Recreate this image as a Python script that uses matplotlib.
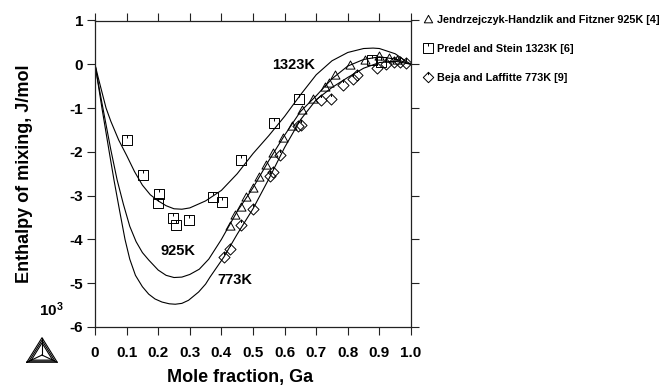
import numpy as np
import matplotlib
matplotlib.use('Agg')
import matplotlib.pyplot as plt
from matplotlib.path import Path
from matplotlib.lines import Line2D

plt.rcParams['font.family'] = ['Liberation Sans', 'DejaVu Sans']
plt.rcParams['font.weight'] = 'bold'
plt.rcParams['axes.unicode_minus'] = False
plt.rcParams['mathtext.fontset'] = 'custom'
plt.rcParams['mathtext.bf'] = 'Liberation Sans:bold'
plt.rcParams['mathtext.rm'] = 'Liberation Sans:bold'

# calculated curves, enthalpy in kJ/mol
c1323_x = [0, 0.01, 0.02, 0.035, 0.05, 0.075, 0.1, 0.125, 0.15, 0.175, 0.2, 0.225, 0.25,
           0.275, 0.3, 0.35, 0.4, 0.45, 0.5, 0.55, 0.6, 0.65, 0.7, 0.75, 0.8, 0.85, 0.88,
           0.9, 0.95, 0.98, 1.0]
c1323_y = [0, -0.3, -0.58, -1.0, -1.3, -1.73, -2.08, -2.45, -2.76, -2.98, -3.12, -3.23, -3.3,
           -3.31, -3.28, -3.12, -2.88, -2.5, -2.04, -1.63, -1.19, -0.7, -0.24, 0.08, 0.27, 0.36,
           0.37, 0.36, 0.24, 0.09, 0]

c925_x = [0, 0.01, 0.025, 0.05, 0.07, 0.09, 0.11, 0.13, 0.15, 0.17, 0.2, 0.225, 0.25, 0.275,
          0.3, 0.33, 0.36, 0.4, 0.45, 0.5, 0.55, 0.6, 0.65, 0.7, 0.75, 0.8, 0.85, 0.9, 0.95, 1.0]
c925_y = [0, -0.42, -1.0, -1.95, -2.64, -3.2, -3.7, -4.05, -4.3, -4.47, -4.7, -4.82, -4.87, -4.86,
          -4.8, -4.68, -4.45, -4.0, -3.36, -2.82, -2.2, -1.62, -1.08, -0.72, -0.33, -0.04, 0.11,
          0.17, 0.12, 0]

c773_x = [0, 0.01, 0.022, 0.045, 0.06, 0.078, 0.095, 0.11, 0.128, 0.15, 0.17, 0.19, 0.212, 0.235,
          0.254, 0.275, 0.296, 0.328, 0.35, 0.364, 0.408, 0.45, 0.5, 0.55, 0.6, 0.65, 0.7, 0.75,
          0.8, 0.85, 0.9, 0.95, 1.0]
c773_y = [0, -0.45, -1.0, -2.0, -2.64, -3.35, -4.0, -4.45, -4.82, -5.08, -5.25, -5.36, -5.43, -5.47,
          -5.48, -5.46, -5.39, -5.2, -5.02, -4.86, -4.4, -3.88, -3.3, -2.62, -1.9, -1.27, -0.81,
          -0.53, -0.3, -0.09, 0.04, 0.07, 0]

# experimental points
tri_x = [0.427, 0.443, 0.462, 0.478, 0.499, 0.520, 0.541, 0.564, 0.594, 0.622, 0.654, 0.691,
         0.728, 0.740, 0.759, 0.807, 0.854, 0.899, 0.93, 0.955]
tri_y = [-3.70, -3.44, -3.25, -3.03, -2.83, -2.57, -2.30, -2.02, -1.69, -1.42, -1.04, -0.79,
         -0.51, -0.42, -0.24, -0.01, 0.10, 0.19, 0.14, 0.10]

sq_x = [0.100, 0.153, 0.203, 0.199, 0.248, 0.256, 0.298, 0.374, 0.401, 0.462, 0.567, 0.645,
        0.876, 0.905]
sq_y = [-1.74, -2.52, -2.96, -3.16, -3.50, -3.66, -3.55, -3.04, -3.14, -2.19, -1.35, -0.79,
        0.10, 0.06]

dia_x = [0.408, 0.427, 0.462, 0.499, 0.554, 0.562, 0.585, 0.643, 0.652, 0.714, 0.746, 0.786,
         0.817, 0.83, 0.891, 0.92, 0.945, 0.965, 0.985]
dia_y = [-4.40, -4.21, -3.67, -3.31, -2.55, -2.45, -2.07, -1.41, -1.38, -0.81, -0.79, -0.47,
         -0.34, -0.25, -0.09, 0.0, 0.06, 0.05, 0.02]

x_ticks = [0, 0.1, 0.2, 0.3, 0.4, 0.5, 0.6, 0.7, 0.8, 0.9, 1.0]
x_ticklabels = ['0', '0.1', '0.2', '0.3', '0.4', '0.5', '0.6', '0.7', '0.8', '0.9', '1.0']
y_ticks = [-6, -5, -4, -3, -2, -1, 0, 1]

legend_labels = ['Jendrzejczyk-Handzlik and Fitzner 925K [4]',
                 'Predel and Stein 1323K [6]',
                 'Beja and Laffitte 773K [9]']

# marker shapes with the little tick at the top
M, L, C = Path.MOVETO, Path.LINETO, Path.CLOSEPOLY
sq_marker = Path([(-1, -1), (1, -1), (1, 1), (-1, 1), (-1, -1), (0, 1), (0, 0.35)],
                 [M, L, L, L, C, M, L])
dia_marker = Path([(0, -1), (1, 0), (0, 1), (-1, 0), (0, -1), (0, 1), (0, 0.45)],
                  [M, L, L, L, C, M, L])
tri_marker = Path([(-1, -0.8), (1, -0.8), (0, 1), (-1, -0.8)], [M, L, L, C])

fig = plt.figure(figsize=(6.59, 3.88), dpi=100)
ax = fig.add_axes([95 / 659, 61 / 388, 316 / 659, 306.5 / 388])

lw = 0.8
ax.plot(c1323_x, c1323_y, color='black', lw=lw)
ax.plot(c925_x, c925_y, color='black', lw=lw)
ax.plot(c773_x, c773_y, color='black', lw=lw)

mk = dict(linestyle='none', mfc='none', mec='black', mew=0.7)
ax.plot(tri_x, tri_y, marker=tri_marker, ms=6.5, **mk)
ax.plot(sq_x, sq_y, marker=sq_marker, ms=7, **mk)
ax.plot(dia_x, dia_y, marker=dia_marker, ms=8, **mk)

ax.text(0.630, -0.02, '1323K', fontsize=10.5, ha='center', va='center')
ax.text(0.264, -4.26, '925K', fontsize=10.5, ha='center', va='center')
ax.text(0.443, -4.92, '773K', fontsize=10.5, ha='center', va='center')

ax.set_xlim(0, 1)
ax.set_ylim(-6, 1)
ax.set_xticks(x_ticks)
ax.set_xticklabels(x_ticklabels)
ax.set_yticks(y_ticks)
ax.set_yticklabels([str(v) for v in y_ticks])
ax.tick_params(direction='out', length=5.5, width=0.8, top=True, right=True,
               labelsize=11, color='#222222')
ax.tick_params(axis='x', pad=8)
ax.tick_params(axis='y', pad=3)
for s in ax.spines.values():
    s.set_linewidth(0.9)
    s.set_color('#222222')

ax.set_xlabel('Mole fraction, Ga', fontsize=13, fontweight='bold')
ax.xaxis.set_label_coords(0.459, -0.137)
ax.set_ylabel('Enthalpy of mixing, J/mol', fontsize=13, fontweight='bold')
ax.yaxis.set_label_coords(-0.195, 0.5)

fig.text(39 / 659, (388 - 310) / 388, r'$\mathbf{10^3}$', fontsize=11, ha='left', va='center')

handles = [Line2D([], [], marker=tri_marker, ms=6, **mk),
           Line2D([], [], marker=sq_marker, ms=6.5, **mk),
           Line2D([], [], marker=dia_marker, ms=7.5, **mk)]
fig.legend(handles, legend_labels, loc='upper left', bbox_to_anchor=(423 / 659, 0.962),
           frameon=False, fontsize=7.8, handlelength=1.0, handletextpad=0.3,
           labelspacing=1.75, borderpad=0, borderaxespad=0)

# Thermo-Calc style logo in the lower left corner
lax = fig.add_axes([26 / 659, 25 / 388, 32 / 659, 26 / 388])
lax.set_xlim(-1.05, 1.05)
lax.set_ylim(-0.05, 1.75)
lax.axis('off')
apex, bl, br, cen = np.array([0, 1.7]), np.array([-1, 0]), np.array([1, 0]), np.array([0, 0.5])
for k in [1.0, 0.85, 0.7]:
    tri = [cen + k * (p - cen) for p in (bl, br, apex, bl)]
    lax.plot([p[0] for p in tri], [p[1] for p in tri], color='black', lw=0.8)
for p in (apex, bl, br):
    lax.plot([p[0], cen[0]], [p[1], cen[1]], color='black', lw=0.8)

fig.savefig('out.png', dpi=100)
